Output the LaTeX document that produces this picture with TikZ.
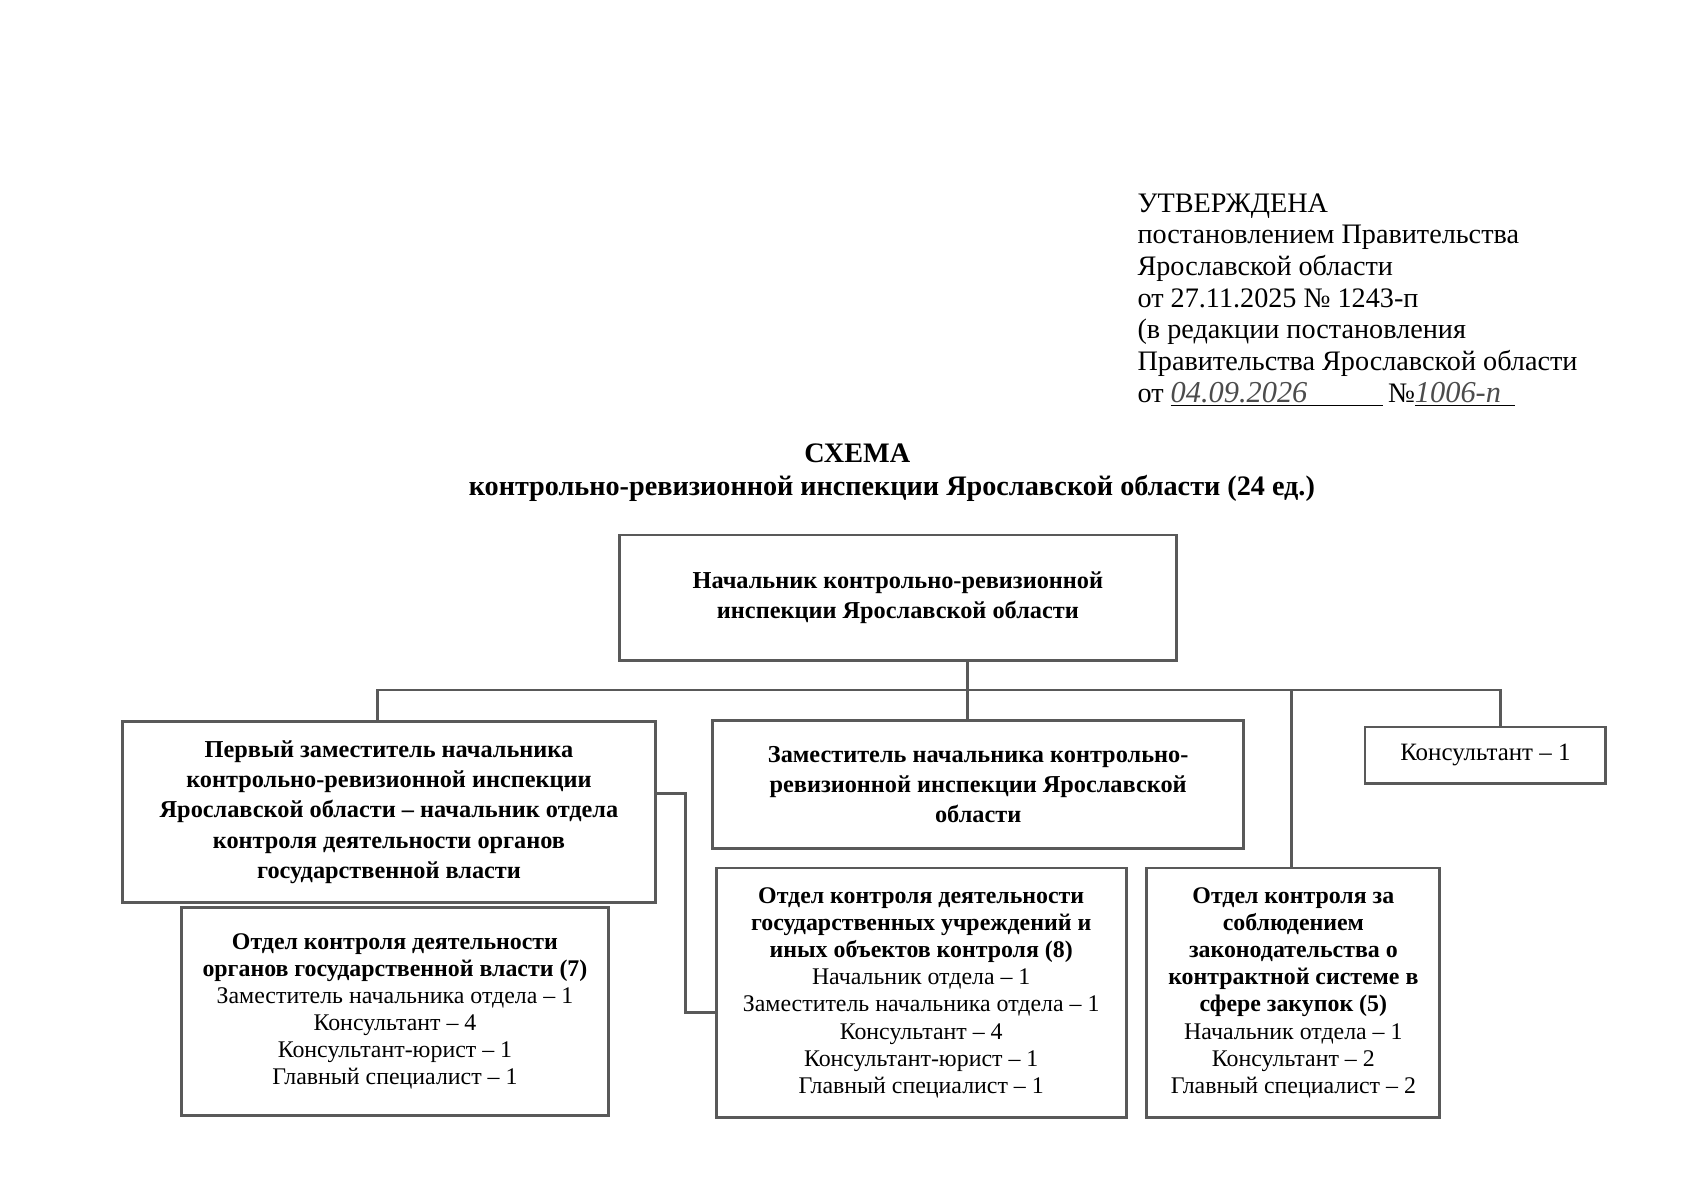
\documentclass[tikz,border=0pt]{standalone}
\usepackage{fontspec}
\setmainfont{Liberation Serif}
\newcommand{\handwr}{\fontsize{14}{14}\selectfont\itshape\color{black!70}}

\begin{document}
\begin{tikzpicture}[x=0.5pt,y=-0.5pt]
\tikzset{
block/.style = {draw=black!65, line width=1.3pt, rectangle, align=center, inner sep=2pt, font=\fontsize{11.2}{14}\selectfont\bfseries},
dept/.style = {block, font=\fontsize{11}{12.5}\selectfont},
link/.style = {draw=black!65, line width=1.3pt}
}
\useasboundingbox (0,0) rectangle (1564,1106);

\node [anchor=north west, align=left, inner sep=0pt, font=\fontsize{13}{14.6}\selectfont] (approved) at (1048,178)
{УТВЕРЖДЕНА\\постановлением Правительства\\Ярославской области\\от 27.11.2025 № 1243-п\\(в редакции постановления\\Правительства Ярославской области\\от \underline{\makebox[98pt][l]{\handwr 04.09.2026}}\,№\underline{\makebox[46pt][l]{\handwr 1006-п}}};

\node [font=\fontsize{13}{14}\selectfont\bfseries] (title) at (790,418) {СХЕМА};
\node [font=\fontsize{13}{14}\selectfont\bfseries] (subtitle) at (822,450) {контрольно-ревизионной инспекции Ярославской области (24 ед.)};

\node [block, minimum width=256.5pt, minimum height=58pt] (chief) at (827.5,551) {Начальник контрольно-ревизионной\\инспекции Ярославской области};
\node [block, minimum width=245.5pt, minimum height=83.5pt] (firstdeputy) at (358.5,748.5) {Первый заместитель начальника\\контрольно-ревизионной инспекции\\Ярославской области – начальник отдела\\контроля деятельности органов\\государственной власти};
\node [block, minimum width=244.5pt, minimum height=59pt] (deputy) at (901.5,723) {Заместитель начальника контрольно-\\ревизионной инспекции Ярославской\\области};
\node [block, font=\fontsize{11.5}{14}\selectfont, minimum width=111pt, minimum height=26pt] (consultant) at (1369,696) {Консультант – 1};

\node [dept, minimum width=197pt, minimum height=96pt] (deptorgans) at (364,932) {\textbf{Отдел контроля деятельности}\\\textbf{органов государственной власти (7)}\\Заместитель начальника отдела – 1\\Консультант – 4\\Консультант-юрист – 1\\Главный специалист – 1};
\node [dept, minimum width=189pt, minimum height=115pt] (deptinst) at (849,915) {\textbf{Отдел контроля деятельности}\\\textbf{государственных учреждений и}\\\textbf{иных объектов контроля (8)}\\Начальник отдела – 1\\Заместитель начальника отдела – 1\\Консультант – 4\\Консультант-юрист – 1\\Главный специалист – 1};
\node [dept, minimum width=135pt, minimum height=115pt] (deptprocure) at (1192,915) {\textbf{Отдел контроля за}\\\textbf{соблюдением}\\\textbf{законодательства о}\\\textbf{контрактной системе в}\\\textbf{сфере закупок (5)}\\Начальник отдела – 1\\Консультант – 2\\Главный специалист – 2};

\coordinate (bus) at (892,636);
\coordinate (busleft) at (348,636);
\coordinate (busright) at (1383,636);
\coordinate (busmid) at (1190,636);
\coordinate (bracket) at (632,731);
\coordinate (bracketlow) at (632,933);

\draw [link] (chief.south -| bus) -- (deputy.north -| bus);
\draw [link] (firstdeputy.north -| busleft) -- (busleft) -- (busright) -- (consultant.north -| busright);
\draw [link] (busmid) -- (deptprocure.north -| busmid);
\draw [link] (firstdeputy.east |- bracket) -- (bracket) -- (bracketlow) -- (deptinst.west |- bracketlow);
\end{tikzpicture}
\end{document}
